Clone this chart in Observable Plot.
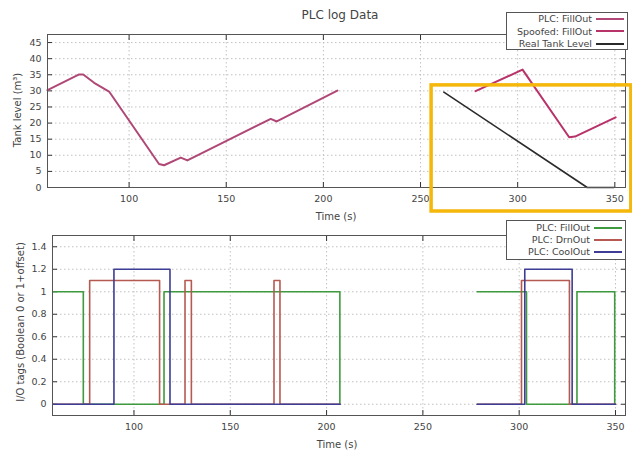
<!DOCTYPE html>
<html>
<head>
<meta charset="utf-8">
<script src="https://cdn.jsdelivr.net/npm/d3@7"></script>
<script src="https://cdn.jsdelivr.net/npm/@observablehq/plot@0.6"></script>
<style>
  html, body { margin: 0; padding: 0; background: #fff; }
  #wrap { position: relative; width: 632px; height: 453px; overflow: hidden; font-family: "DejaVu Sans", sans-serif; color: #444; }
  #wrap svg { position: absolute; left: 0; overflow: visible; }
  .t { position: absolute; white-space: nowrap; font-size: 10px; color: #444; }
  .legend { position: absolute; background: #fff; border: 1px solid #555; box-sizing: border-box; }
  .row { position: absolute; right: 0; height: 12px; display: flex; align-items: center; font-size: 9.5px; color: #444; }
  .row span.sw { display: inline-block; width: 28px; height: 0; border-top: 2px solid; margin-left: 4px; margin-right: 3px; }
</style>
</head>
<body>
<div id="wrap"></div>
<script>
// ---- Top panel data (tank level) ----
const plcFillT   = [58, 74.3, 76.4, 82, 89.7, 115.4, 118, 126.6, 130, 172.9, 176, 207.2];
const plcFillV   = [30.2, 35.1, 35.1, 32.5, 29.8, 7.3, 6.9, 9.3, 8.4, 21.3, 20.5, 30.1];
const spoofT     = [278.3, 302.5, 326.5, 329.5, 350.4];
const spoofV     = [29.9, 36.6, 15.6, 15.8, 21.8];
const realT      = [262, 335.8, 349.5];
const realV      = [29.6, 0, 0];
const topXTicks  = [100, 150, 200, 250, 300, 350];
const topYTicks  = [0, 5, 10, 15, 20, 25, 30, 35, 40, 45];
const highlightX = [255.7, 358.5];
const highlightY = [-7.45, 31.7];

// ---- Bottom panel data (I/O tags, step signals; seg = separate runs) ----
const fillT   = [58, 73.7, 115.6, 206.9, 278.2, 303.8, 330, 349.6];
const fillV   = [1, 0, 1, 0, 1, 0, 1, 0];
const fillSeg = [1, 1, 1, 1, 2, 2, 2, 2];
const drnT    = [58, 77, 113.3, 126.5, 129.8, 172.7, 175.8, 207, 278.2, 301.2, 326.1, 350];
const drnV    = [0, 1.1, 0, 1.1, 0, 1.1, 0, 0, 0, 1.1, 0, 0];
const drnSeg  = [1, 1, 1, 1, 1, 1, 1, 1, 2, 2, 2, 2];
const coolT   = [58, 89.6, 118.7, 207, 278.2, 302.9, 327.5, 350];
const coolV   = [0, 1.2, 0, 0, 0, 1.2, 0, 0];
const coolSeg = [1, 1, 1, 1, 2, 2, 2, 2];
const botXTicks = [100, 150, 200, 250, 300, 350];
const botYTicks = [0, 0.2, 0.4, 0.6, 0.8, 1, 1.2, 1.4];

const topLegend = ["PLC: FillOut", "Spoofed: FillOut", "Real Tank Level"];
const botLegend = ["PLC: FillOut", "PLC: DrnOut", "PLC: CoolOut"];

const C = { plc: "#b04877", spoof: "#b8336a", real: "#2a2a2a", fill: "#3f9a3f", drn: "#b55a50", cool: "#3d3d95", gold: "#f5b70a" };

const zip = (T, V, S) => T.map((t, i) => ({t, v: V[i], s: S ? S[i] : 1}));
const plcRows = zip(plcFillT, plcFillV);
const spoofRows = zip(spoofT, spoofV);
const realRows = zip(realT, realV);
const fillRows = zip(fillT, fillV, fillSeg);
const drnRows = zip(drnT, drnV, drnSeg);
const coolRows = zip(coolT, coolV, coolSeg);

const gridStyle = {stroke: "#bbb", strokeOpacity: 0.9, strokeDasharray: "1.5,2.5"};
const common = {fontFamily: "DejaVu Sans, sans-serif", fontSize: "9.5px", color: "#444", background: "transparent"};

function axes(xTicks, yTicks, fmtY) {
  return [
    Plot.gridX(xTicks, gridStyle),
    Plot.gridY(yTicks, gridStyle),
    Plot.axisX(xTicks, {anchor: "bottom", tickSize: 0, tickPadding: 8, label: null, fill: "#444"}),
    Plot.axisX(xTicks, {anchor: "bottom", tickSize: -5, tickFormat: () => "", label: null, stroke: "#333"}),
    Plot.axisX(xTicks, {anchor: "top", tickSize: -5, tickFormat: () => "", label: null, stroke: "#333"}),
    Plot.axisY(yTicks, {anchor: "left", tickSize: 0, tickPadding: 6, label: null, fill: "#444", tickFormat: fmtY}),
    Plot.axisY(yTicks, {anchor: "left", tickSize: -5, tickFormat: () => "", label: null, stroke: "#333"}),
    Plot.axisY(yTicks, {anchor: "right", tickSize: -5, tickFormat: () => "", label: null, stroke: "#333"})
  ];
}

const topChart = Plot.plot({
  width: 632, height: 225,
  marginTop: 34, marginBottom: 38, marginLeft: 47, marginRight: 7,
  style: common,
  x: {domain: [58, 355.5]},
  y: {domain: [0, 47.5]},
  marks: [
    ...axes(topXTicks, topYTicks, d => String(d)),
    Plot.line(plcRows, {x: "t", y: "v", stroke: C.plc, strokeWidth: 2}),
    Plot.line(spoofRows, {x: "t", y: "v", stroke: C.spoof, strokeWidth: 2}),
    Plot.line(realRows, {x: "t", y: "v", stroke: C.real, strokeWidth: 1.6}),
    Plot.frame({stroke: "#555"}),
    Plot.rect([{x1: highlightX[0], x2: highlightX[1], y1: highlightY[0], y2: highlightY[1]}],
      {x1: "x1", x2: "x2", y1: "y1", y2: "y2", fill: "none", stroke: C.gold, strokeWidth: 3.5})
  ]
});
topChart.style.top = "0px";

const botChart = Plot.plot({
  width: 632, height: 228,
  marginTop: 10, marginBottom: 38, marginLeft: 52, marginRight: 7,
  style: common,
  x: {domain: [57.7, 355.2]},
  y: {domain: [-0.1, 1.5]},
  marks: [
    ...axes(botXTicks, botYTicks, d => d === 0 || d === 1 ? String(d) : d3.format(".1f")(d)),
    Plot.line(fillRows, {x: "t", y: "v", z: "s", curve: "step-after", stroke: C.fill, strokeWidth: 1.6}),
    Plot.line(drnRows, {x: "t", y: "v", z: "s", curve: "step-after", stroke: C.drn, strokeWidth: 1.6}),
    Plot.line(coolRows, {x: "t", y: "v", z: "s", curve: "step-after", stroke: C.cool, strokeWidth: 1.6}),
    Plot.frame({stroke: "#555"})
  ]
});
botChart.style.top = "225px";

const wrap = document.getElementById("wrap");
wrap.appendChild(topChart);
wrap.appendChild(botChart);

function addText(txt, x, y, opts = {}) {
  const d = document.createElement("div");
  d.className = "t";
  d.textContent = txt;
  d.style.left = x + "px";
  d.style.top = y + "px";
  d.style.transform = opts.rotate ? "translate(-50%,-50%) rotate(-90deg)" : "translate(-50%,-50%)";
  if (opts.size) d.style.fontSize = opts.size + "px";
  wrap.appendChild(d);
}
addText("PLC log Data", 340, 15, {size: 12});
addText("Time (s)", 336, 216);
addText("Time (s)", 337, 444);
addText("Tank level (m³)", 17, 110, {rotate: true});
addText("I/O tags (Boolean 0 or 1+offset)", 20, 322, {rotate: true});

function addLegend(labels, colors, left, topPx, w, h, rowCenters) {
  const box = document.createElement("div");
  box.className = "legend";
  box.style.left = left + "px"; box.style.top = topPx + "px";
  box.style.width = w + "px"; box.style.height = h + "px";
  labels.forEach((lab, i) => {
    const r = document.createElement("div");
    r.className = "row";
    r.style.top = (rowCenters[i] - topPx - 6) + "px";
    const s = document.createElement("span");
    s.textContent = lab;
    const sw = document.createElement("span");
    sw.className = "sw";
    sw.style.borderTopColor = colors[i];
    r.appendChild(s); r.appendChild(sw);
    box.appendChild(r);
  });
  wrap.appendChild(box);
}
addLegend(topLegend, [C.plc, C.spoof, C.real], 506, 12, 122, 38, [17.5, 30, 42.5]);
addLegend(botLegend, [C.fill, C.drn, C.cool], 506, 220, 120, 40, [226.5, 238.5, 250.5]);
</script>
</body>
</html>
